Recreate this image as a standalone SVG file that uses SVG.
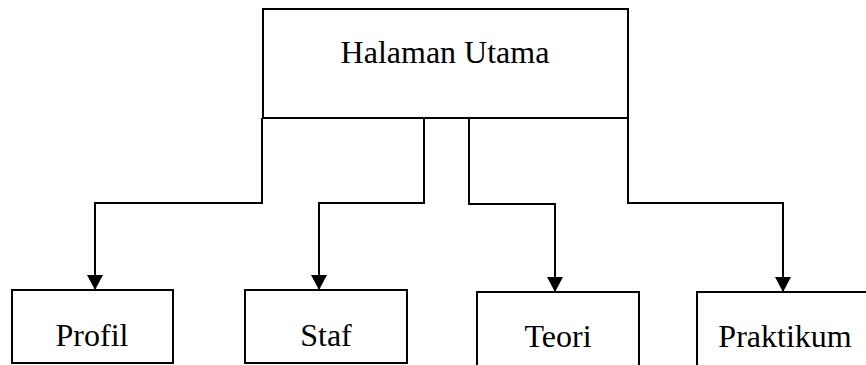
<svg xmlns="http://www.w3.org/2000/svg" width="866" height="365" viewBox="0 0 866 365">
<style>
.box{fill:#fff;stroke:#000;stroke-width:2}
.lbl{font-family:"Liberation Serif","Times New Roman",serif;font-size:32px;fill:#000;text-anchor:middle}
.con{fill:none;stroke:#000;stroke-width:2}
</style>
<defs>
<marker id="arr" markerUnits="userSpaceOnUse" markerWidth="16" markerHeight="16" viewBox="0 0 15 16" refX="15" refY="8" orient="auto">
<path d="M0,0 L15,8 L0,16 z" fill="#000"/>
</marker>
</defs>
<rect width="866" height="365" fill="#fff"/>
<g id="connectors">
<path class="con" d="M262,118 V203 H95 V290" marker-end="url(#arr)"/>
<path class="con" d="M424,118 V203 H319 V290" marker-end="url(#arr)"/>
<path class="con" d="M469,118 V204 H555 V292" marker-end="url(#arr)"/>
<path class="con" d="M628,118 V203 H783 V292" marker-end="url(#arr)"/>
</g>
<g id="halaman-utama">
<rect class="box" x="263" y="9" width="365" height="109"/>
<text class="lbl" x="445" y="63">Halaman Utama</text>
</g>
<g id="profil">
<rect class="box" x="12" y="290" width="161" height="73"/>
<text class="lbl" x="92" y="346">Profil</text>
</g>
<g id="staf">
<rect class="box" x="245" y="290" width="162" height="73"/>
<text class="lbl" x="326" y="346">Staf</text>
</g>
<g id="teori">
<rect class="box" x="477" y="292" width="162" height="80"/>
<text class="lbl" x="558" y="347">Teori</text>
</g>
<g id="praktikum">
<rect class="box" x="697" y="292" width="180" height="80"/>
<text class="lbl" x="785" y="347">Praktikum</text>
</g>
</svg>
